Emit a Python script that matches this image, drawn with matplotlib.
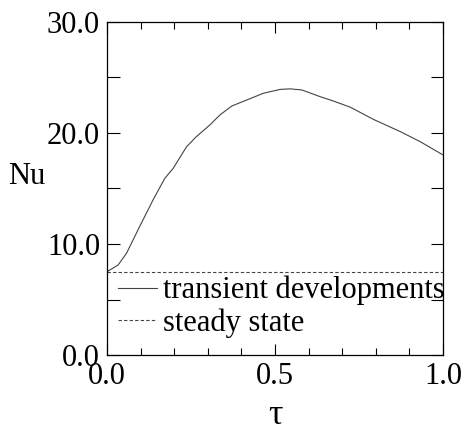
import matplotlib
matplotlib.use("Agg")
from matplotlib import pyplot as plt
from matplotlib.ticker import MultipleLocator

# transient Nusselt number vs dimensionless time
tau = [0.0, 0.033, 0.058, 0.097, 0.137, 0.172, 0.197, 0.237, 0.266, 0.306,
       0.336, 0.371, 0.416, 0.465, 0.515, 0.545, 0.580, 0.634, 0.674, 0.724,
       0.793, 0.873, 0.932, 1.0]
nu_transient = [7.5, 8.1, 9.15, 11.55, 13.95, 15.9, 16.8, 18.75, 19.65, 20.7,
                21.6, 22.4, 22.95, 23.55, 23.9, 23.95, 23.85, 23.25, 22.85, 22.3,
                21.2, 20.1, 19.2, 18.0]
nu_steady = 7.5

plt.rcParams['font.family'] = ['Liberation Serif', 'DejaVu Serif']

fig = plt.figure(figsize=(4.63, 4.32), dpi=100)
ax = fig.add_axes([0.231, 0.178, 0.726, 0.772])

ax.plot(tau, nu_transient, color='#444444', lw=0.8, label='transient developments')
ax.axhline(nu_steady, color='#444444', lw=0.8, ls=(0, (3, 2)), label='steady state')

ax.set_xlim(0, 1)
ax.set_ylim(0, 30)
ax.xaxis.set_major_locator(MultipleLocator(0.5))
ax.xaxis.set_minor_locator(MultipleLocator(0.1))
ax.yaxis.set_major_locator(MultipleLocator(10))
ax.yaxis.set_minor_locator(MultipleLocator(5))
ax.xaxis.set_major_formatter(lambda v, p: f"{v:.1f}")
ax.yaxis.set_major_formatter(lambda v, p: f"{v:.1f}")
ax.tick_params(which='both', direction='in', top=True, right=True, labelsize=22, width=0.8)
ax.tick_params(axis='x', which='major', length=8, pad=5)
ax.tick_params(axis='x', which='minor', length=5)
ax.tick_params(axis='y', which='both', length=9, pad=5)
for s in ax.spines.values():
    s.set_linewidth(0.9)

ax.set_xlabel("τ", fontsize=26)
ax.xaxis.set_label_coords(0.5, -0.18)
ax.xaxis.label.set_va('center')
ax.set_ylabel("Nu", fontsize=22, rotation=0, va='center', ha='center')
ax.yaxis.set_label_coords(-0.24, 0.537)

ax.legend(loc='upper left', bbox_to_anchor=(0.0, 0.27), frameon=False, fontsize=22,
          handlelength=1.3, handletextpad=0.17, labelspacing=0.1, borderpad=0,
          borderaxespad=0.35)

fig.savefig('out.png', dpi=100)
